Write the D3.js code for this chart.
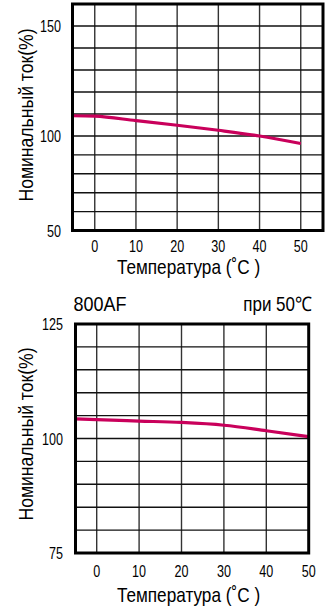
<!DOCTYPE html>
<html>
<head>
<meta charset="utf-8">
<script src="https://cdn.jsdelivr.net/npm/d3@7"></script>
<style>
  html, body { margin: 0; padding: 0; background: #fff; }
  svg { display: block; font-family: "Liberation Sans", Arial, Helvetica, sans-serif; }
</style>
</head>
<body>
<svg id="chart" width="325" height="609"></svg>
<script>
// ---- data ----
const xTickValues = [0, 10, 20, 30, 40, 50];

const tempTop = [-5.4, 0, 10, 20, 30, 40, 50];
const currentTop = [109.2, 109.0, 107.0, 104.9, 102.6, 100.0, 96.0];
const yTicksTop = [50, 100, 150];
const yGridTop = [60, 70, 80, 90, 100, 110, 120, 130, 140, 150];

const tempBottom = [-5, 0, 10, 20, 30, 40, 50];
const currentBottom = [104.3, 104.1, 103.8, 103.5, 102.9, 101.7, 100.4];
const yTicksBottom = [75, 100, 125];
const yGridBottom = [80, 85, 90, 95, 100, 105, 110, 115, 120];

const yTitle = "Номинальный ток(%)";
const xTitle = "Температура (˚C )";
const bottomLeftNote = "800AF";
const bottomRightNote = "при 50℃";

const lineColor = "#c9005b";

const svg = d3.select("#chart");

function label(g, x, y, txt, size, sx, anchor, rot, dy) {
  g.append("text")
    .attr("transform", `translate(${x},${y}) rotate(${rot || 0}) scale(${sx},1)`)
    .attr("text-anchor", anchor)
    .attr("font-size", size)
    .attr("dy", dy || 0)
    .attr("fill", "#000")
    .text(txt);
}

function drawChart(cfg) {
  const g = svg.append("g");
  const x = cfg.x, y = cfg.y;
  const [x0, x1] = x.range();
  const yr = y.range();
  const yBottom = yr[0], yTop = yr[yr.length - 1];

  // grid
  g.append("g").selectAll("line.v").data(xTickValues).join("line")
    .attr("x1", d => x(d)).attr("x2", d => x(d))
    .attr("y1", yTop).attr("y2", yBottom)
    .attr("stroke", "#333").attr("stroke-width", 1.4);
  g.append("g").selectAll("line.h").data(cfg.grid).join("line")
    .attr("x1", x0).attr("x2", x1)
    .attr("y1", d => y(d)).attr("y2", d => y(d))
    .attr("stroke", "#111").attr("stroke-width", 1.4);

  // curve
  const line = d3.line().x(d => x(d[0])).y(d => y(d[1])).curve(d3.curveMonotoneX);
  g.append("path")
    .datum(cfg.temps.map((t, i) => [t, cfg.vals[i]]))
    .attr("d", line)
    .attr("fill", "none")
    .attr("stroke", lineColor)
    .attr("stroke-width", 3.2);

  // frame
  g.append("rect")
    .attr("x", x0).attr("y", yTop)
    .attr("width", x1 - x0).attr("height", yBottom - yTop)
    .attr("fill", "none").attr("stroke", "#000").attr("stroke-width", 3);

  // y tick labels
  cfg.yTicks.forEach(v => label(g, cfg.yLabelX, y(v), String(v), 17, 0.74, "end", 0, "0.36em"));
  // x tick labels
  xTickValues.forEach(v => label(g, x(v), cfg.xLabelY, String(v), 17, 0.74, "middle", 0, 0));
  // titles
  label(g, cfg.xTitleX, cfg.xTitleY, xTitle, 20, 0.86, "middle", 0, 0);
  label(g, 33, cfg.yTitleY, yTitle, 20, 0.88, "middle", -90, 0);
}

// top chart
drawChart({
  x: d3.scaleLinear().domain([-5.4, 55.4]).range([72.5, 323]),
  y: d3.scaleLinear().domain([50, 100, 160]).range([230.5, 136, 4]),
  grid: yGridTop, yTicks: yTicksTop, temps: tempTop, vals: currentTop,
  yLabelX: 61, xLabelY: 252, xTitleX: 188.5, xTitleY: 273.5, yTitleY: 115
});

// bottom chart
drawChart({
  x: d3.scaleLinear().domain([-5, 50]).range([75.5, 308.7]),
  y: d3.scaleLinear().domain([75, 125]).range([553, 324]),
  grid: yGridBottom, yTicks: yTicksBottom, temps: tempBottom, vals: currentBottom,
  yLabelX: 63, xLabelY: 577, xTitleX: 188.5, xTitleY: 601.5, yTitleY: 434
});

const notes = svg.append("g");
label(notes, 73.5, 310.5, bottomLeftNote, 20, 0.9, "start", 0, 0);
label(notes, 311.5, 310.5, bottomRightNote, 20, 0.85, "end", 0, 0);
</script>
</body>
</html>
